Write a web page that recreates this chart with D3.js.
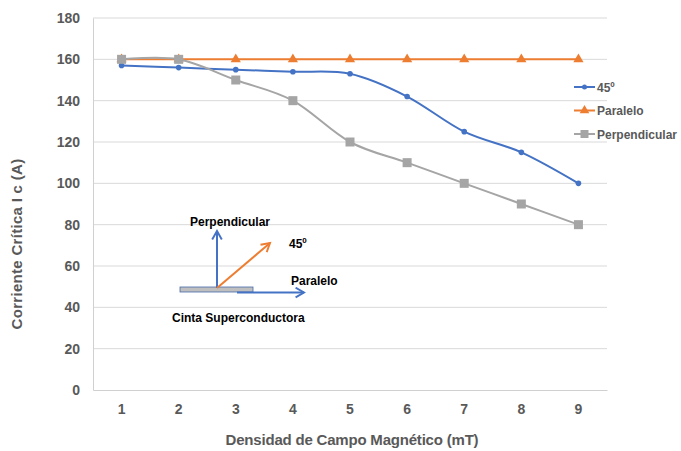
<!DOCTYPE html>
<html>
<head>
<meta charset="utf-8">
<script src="https://cdn.jsdelivr.net/npm/d3@7"></script>
<style>
body{margin:0;background:#fff;}
text{font-family:"Liberation Sans",Arial,sans-serif;}
</style>
</head>
<body>
<svg id="chart" width="681" height="451"></svg>
<script>
const categories=[1,2,3,4,5,6,7,8,9];
const yTicks=[0,20,40,60,80,100,120,140,160,180];
const serie45=[157,156,155,154,153,142,125,115,100];
const serieParalelo=[160,160,160,160,160,160,160,160,160];
const seriePerpendicular=[160,160,150,140,120,110,100,90,80];
const seriesNames=["45º","Paralelo","Perpendicular"];
const colors=["#4472c4","#ed7d31","#a5a5a5"];

const svg=d3.select("#chart");
const margin={top:18,right:74,bottom:61,left:93};
const width=681-margin.left-margin.right;
const height=451-margin.top-margin.bottom;
const g=svg.append("g").attr("transform",`translate(${margin.left},${margin.top})`);

const x=d3.scaleBand().domain(categories).range([0,width]);
const y=d3.scaleLinear().domain([0,180]).range([height,0]);

// gridlines
g.selectAll(".grid").data(yTicks.filter(d=>d>0)).enter().append("line")
    .attr("x1",0).attr("x2",width)
    .attr("y1",d=>y(d)).attr("y2",d=>y(d))
    .attr("stroke","#d9d9d9").attr("stroke-width",1);

// axes
const xAxis=g.append("g").attr("transform",`translate(0,${height})`)
    .call(d3.axisBottom(x).tickSize(0).tickPadding(14));
xAxis.select(".domain").attr("stroke","#d0d0d0");
const yAxis=g.append("g").call(d3.axisLeft(y).tickValues(yTicks).tickSize(0).tickPadding(13));
yAxis.select(".domain").attr("stroke","#d0d0d0");
svg.selectAll(".tick text").attr("fill","#595959").style("font-size","14px").style("font-weight","bold");

// titles
svg.append("text").attr("x",352).attr("y",445).attr("text-anchor","middle")
    .attr("fill","#595959").style("font-size","15px").style("font-weight","bold")
    .style("letter-spacing","-0.2px").text("Densidad de Campo Magnético (mT)");
svg.append("text").attr("transform","translate(22,244) rotate(-90)").attr("text-anchor","middle")
    .attr("fill","#595959").style("font-size","15px").style("font-weight","bold")
    .style("letter-spacing","0.3px").text("Corriente Crítica I c (A)");

// lines
const data=[serie45,serieParalelo,seriePerpendicular];
const line=d3.line().x((d,i)=>x(categories[i])+x.bandwidth()/2).y(d=>y(d))
    .curve(d3.curveCatmullRom.alpha(0));
data.forEach((s,k)=>{
    g.append("path").datum(s).attr("d",line).attr("fill","none")
        .attr("stroke",colors[k]).attr("stroke-width",2);
});
// markers
g.selectAll(".m45").data(serie45).enter().append("circle")
    .attr("cx",(d,i)=>x(categories[i])+x.bandwidth()/2).attr("cy",d=>y(d))
    .attr("r",2.8).attr("fill",colors[0]);
const tri=d3.symbol().type(d3.symbolTriangle).size(45);
g.selectAll(".mpar").data(serieParalelo).enter().append("path")
    .attr("d",tri)
    .attr("transform",(d,i)=>`translate(${x(categories[i])+x.bandwidth()/2},${y(d)})`)
    .attr("fill",colors[1]);
g.selectAll(".mper").data(seriePerpendicular).enter().append("rect")
    .attr("x",(d,i)=>x(categories[i])+x.bandwidth()/2-4.5).attr("y",d=>y(d)-4.5)
    .attr("width",9).attr("height",9).attr("fill",colors[2]);

// legend
const legend=svg.append("g").attr("transform","translate(574,87)");
seriesNames.forEach((n,k)=>{
    const lg=legend.append("g").attr("transform",`translate(0,${k*23.5})`);
    lg.append("line").attr("x1",0).attr("x2",21).attr("stroke",colors[k]).attr("stroke-width",2);
    if(k===0) lg.append("circle").attr("cx",10.5).attr("r",2.5).attr("fill",colors[k]);
    if(k===1) lg.append("path").attr("d",d3.symbol().type(d3.symbolTriangle).size(40)).attr("transform","translate(10.5,0)").attr("fill",colors[k]);
    if(k===2) lg.append("rect").attr("x",6.5).attr("y",-4).attr("width",8).attr("height",8).attr("fill",colors[k]);
    lg.append("text").attr("x",23).attr("y",4.5).attr("fill","#595959")
        .style("font-size","12px").style("font-weight","bold").style("letter-spacing","0px").text(n);
});

// diagram annotation
const defs=svg.append("defs");
function marker(id,c){
    defs.append("marker").attr("id",id).attr("viewBox","0 0 10 10").attr("refX",8).attr("refY",5)
        .attr("markerWidth",6).attr("markerHeight",6).attr("orient","auto")
        .append("path").attr("d","M1,1 L8,5 L1,9").attr("fill","none").attr("stroke",c).attr("stroke-width",1.6);
}
marker("ab","#4472c4");marker("ao","#ed7d31");
const ann=svg.append("g");
ann.append("rect").attr("x",180).attr("y",287).attr("width",73).attr("height",5)
    .attr("fill","#bfbfbf").attr("stroke","#4a6aa8").attr("stroke-width",0.8);
ann.append("line").attr("x1",237).attr("y1",292.5).attr("x2",304).attr("y2",292.5)
    .attr("stroke","#4472c4").attr("stroke-width",2).attr("marker-end","url(#ab)");
ann.append("line").attr("x1",217).attr("y1",288).attr("x2",217).attr("y2",231)
    .attr("stroke","#4472c4").attr("stroke-width",2).attr("marker-end","url(#ab)");
ann.append("line").attr("x1",217).attr("y1",288).attr("x2",270).attr("y2",243)
    .attr("stroke","#ed7d31").attr("stroke-width",2).attr("marker-end","url(#ao)");
const atxt=[["Perpendicular",190,226],["Paralelo",291,285],["Cinta Superconductora",172,322]];
atxt.forEach(t=>{
    ann.append("text").attr("x",t[1]).attr("y",t[2]).attr("fill","#000")
        .style("font-size","12px").style("font-weight","bold").text(t[0]);
});
const t45=ann.append("text").attr("x",289).attr("y",248).attr("fill","#000")
    .style("font-size","12px").style("font-weight","bold");
t45.append("tspan").text("45");
t45.append("tspan").attr("dy",-5).style("font-size","8px").text("0");
</script>
</body>
</html>
